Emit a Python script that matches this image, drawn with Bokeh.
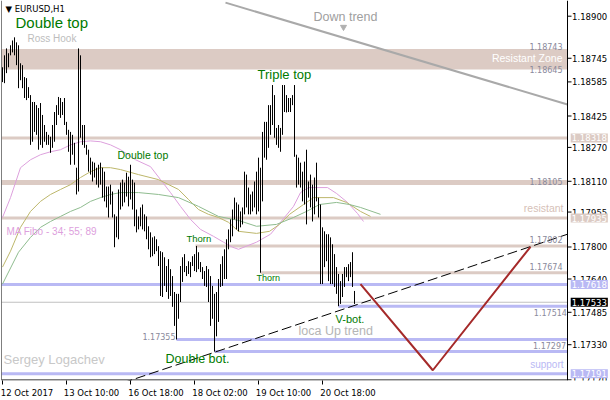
from bokeh.plotting import figure
from bokeh.models import Range1d, FixedTicker, Label
from bokeh.core.properties import value
from bokeh.embed import file_html
from bokeh.resources import INLINE

# ---------------- data (EURUSD H1, bar index / price) ----------------
highs = [1.18656, 1.18713, 1.18746, 1.18723, 1.18761, 1.18784, 1.18799, 1.18775, 1.18761, 1.18675,
         1.18666, 1.18609, 1.18604, 1.18561, 1.18523, 1.18490, 1.18490, 1.18475, 1.18461, 1.18485,
         1.18428, 1.18380, 1.18347, 1.18333, 1.18324, 1.18380, 1.18442, 1.18475, 1.18514, 1.18509,
         1.18490, 1.18509, 1.18395, 1.18357, 1.18347, 1.18333, 1.18295, 1.18176, 1.18746, 1.18713,
         1.18380, 1.18380, 1.18285, 1.18262, 1.18224, 1.18205, 1.18200, 1.18176, 1.18190, 1.18200,
         1.18176, 1.18157, 1.18086, 1.18086, 1.18095, 1.18062, 1.17953, 1.17943, 1.18072, 1.18105,
         1.18119, 1.18105, 1.18152, 1.18133, 1.18190, 1.18119, 1.18105, 1.17976, 1.17943, 1.17986,
         1.18000, 1.17953, 1.17943, 1.17896, 1.17867, 1.17843, 1.17848, 1.17834, 1.17801, 1.17777,
         1.17772, 1.17748, 1.17706, 1.17739, 1.17691, 1.17658, 1.17582, 1.17573, 1.17573, 1.17706,
         1.17748, 1.17763, 1.17706, 1.17729, 1.17725, 1.17753, 1.17763, 1.17802, 1.17772, 1.17725,
         1.17701, 1.17682, 1.17706, 1.17691, 1.17658, 1.17611, 1.17573, 1.17582, 1.17644, 1.17715,
         1.17753, 1.17786, 1.17834, 1.17881, 1.17929, 1.17976, 1.18033, 1.18010, 1.18000, 1.17967,
         1.17986, 1.18157, 1.18143, 1.18081, 1.18048, 1.18062, 1.18110, 1.18157, 1.18224, 1.18176,
         1.18347, 1.18395, 1.18395, 1.18475, 1.18475, 1.18571, 1.18523, 1.18366, 1.18380, 1.18366,
         1.18571, 1.18571, 1.18523, 1.18509, 1.18509, 1.18523, 1.18571, 1.18238, 1.18224, 1.18200,
         1.18157, 1.18205, 1.18262, 1.18110, 1.18143, 1.18095, 1.18129, 1.18200, 1.18033, 1.18000,
         1.17891, 1.17872, 1.17858, 1.17858, 1.17843, 1.17810, 1.17763, 1.17701, 1.17668, 1.17634,
         1.17668, 1.17701, 1.17701, 1.17715, 1.17725, 1.17772, 1.17587]
lows = [1.18585, 1.18580, 1.18628, 1.18656, 1.18713, 1.18727, 1.18713, 1.18666, 1.18556, 1.18594,
        1.18556, 1.18509, 1.18499, 1.18509, 1.18285, 1.18300, 1.18347, 1.18333, 1.18262, 1.18285,
        1.18271, 1.18300, 1.18285, 1.18285, 1.18247, 1.18271, 1.18300, 1.18380, 1.18428, 1.18414,
        1.18428, 1.18380, 1.18333, 1.18252, 1.18190, 1.18238, 1.18190, 1.18048, 1.18062, 1.18319,
        1.18285, 1.18271, 1.18238, 1.18157, 1.18143, 1.18110, 1.18129, 1.18095, 1.18081, 1.18095,
        1.18033, 1.18015, 1.17986, 1.17938, 1.18000, 1.17938, 1.17796, 1.17843, 1.17834, 1.17976,
        1.17991, 1.18010, 1.18038, 1.17991, 1.18024, 1.17976, 1.17896, 1.17867, 1.17881, 1.17896,
        1.17881, 1.17872, 1.17834, 1.17786, 1.17748, 1.17753, 1.17763, 1.17777, 1.17706, 1.17563,
        1.17558, 1.17611, 1.17582, 1.17549, 1.17563, 1.17511, 1.17420, 1.17355, 1.17454, 1.17534,
        1.17630, 1.17677, 1.17658, 1.17668, 1.17653, 1.17706, 1.17682, 1.17677, 1.17691, 1.17677,
        1.17644, 1.17611, 1.17606, 1.17534, 1.17420, 1.17454, 1.17297, 1.17370, 1.17439, 1.17606,
        1.17611, 1.17644, 1.17644, 1.17786, 1.17820, 1.17848, 1.17929, 1.17881, 1.17872, 1.17891,
        1.17905, 1.17953, 1.17986, 1.17953, 1.17953, 1.17967, 1.17986, 1.17953, 1.17967, 1.17674,
        1.18015, 1.18224, 1.18214, 1.18271, 1.18333, 1.18380, 1.18319, 1.18285, 1.18271, 1.18252,
        1.18333, 1.18442, 1.18440, 1.18442, 1.18442, 1.18475, 1.18228, 1.18081, 1.18095, 1.18081,
        1.18015, 1.18000, 1.17905, 1.18033, 1.17986, 1.17919, 1.17953, 1.18015, 1.17938, 1.17620,
        1.17620, 1.17701, 1.17729, 1.17634, 1.17620, 1.17620, 1.17606, 1.17573, 1.17514, 1.17525,
        1.17558, 1.17606, 1.17653, 1.17634, 1.17653, 1.17606, 1.17525]
bar_idx = list(range(len(highs)))

# moving averages (bar index, price)
ma34_x = [0, 4, 9, 14, 19, 24, 29, 34, 39, 44, 49, 54, 59, 66.5, 74, 79, 84, 89, 94, 99, 105.5,
          110.5, 115, 118, 127, 134, 139, 145.5, 149, 153, 162.5, 167, 172.5, 177.5, 180.5]
ma34_y = [1.17938, 1.18033, 1.18176, 1.18214, 1.18238, 1.18252, 1.18262, 1.18285, 1.18300, 1.18304,
          1.18300, 1.18285, 1.18262, 1.18214, 1.18181, 1.18119, 1.18057, 1.17991, 1.17929, 1.17881,
          1.17848, 1.17820, 1.17796, 1.17786, 1.17820, 1.17858, 1.17915, 1.17991, 1.18057, 1.18081,
          1.18081, 1.18053, 1.18010, 1.17957, 1.17919]
ma55_x = [0, 4, 9, 14, 19, 24, 29, 34, 39, 44, 49, 54, 59, 68, 78, 88, 93, 98, 103, 108, 113, 118,
          127, 133.5, 138.5, 143.5, 150.5, 155.5, 165.5, 172, 179, 184]
ma55_y = [1.17701, 1.17777, 1.17891, 1.17967, 1.18015, 1.18048, 1.18072, 1.18095, 1.18129, 1.18157,
          1.18176, 1.18176, 1.18167, 1.18143, 1.18119, 1.18072, 1.18024, 1.17976, 1.17953, 1.17938,
          1.17915, 1.17872, 1.17862, 1.17872, 1.17905, 1.17953, 1.18000, 1.18033, 1.18033, 1.18010,
          1.17967, 1.17943]
ma89_x = [0, 8, 14, 19, 24, 29, 34, 39, 44, 49, 54, 59, 68, 78, 88, 98, 108, 118, 127, 137, 145.5,
          152, 158.5, 167, 173.5, 179, 189]
ma89_y = [1.17620, 1.17772, 1.17843, 1.17891, 1.17919, 1.17943, 1.17967, 1.17986, 1.18015, 1.18033,
          1.18048, 1.18057, 1.18057, 1.18048, 1.18033, 1.17991, 1.17943, 1.17924, 1.17896, 1.17905,
          1.17938, 1.17967, 1.18000, 1.18010, 1.18000, 1.17986, 1.17953]

# analysis objects
zone_top, zone_bottom = 1.18743, 1.18645
rosy_levels = [1.18318, 1.18105, 1.17935, 1.17802, 1.17674]
rosy_start = [-0.5, -0.5, -0.5, 96.5, 129]
rosy_width = [3, 5, 3, 3, 3]
blue_levels = [1.17618, 1.17514, 1.17355, 1.17297, 1.17191]
blue_start = [-0.5, 168, 87, 106, -0.5]
last_price = 1.17533
down_trend_x = [111.5, 282.5]
down_trend_y = [1.18965, 1.18478]
up_trend_x = [60.0, 282.5]
up_trend_y = [1.17147, 1.17858]
forecast_x = [179, 215.15, 264]
forecast_y = [1.17620, 1.17208, 1.17798]

x_tick_pos = [0, 32, 64, 96, 128, 160]
x_label_pos = [12.25, 44.5, 76.75, 108.75, 140.5, 172.75]
x_labels = ["12 Oct 2017", "13 Oct 10:00", "16 Oct 18:00", "18 Oct 02:00", "19 Oct 10:00", "20 Oct 18:00"]
y_tick_pos = [1.18900, 1.18699, 1.18586, 1.18423, 1.18273, 1.18111, 1.17964, 1.17797, 1.17644,
              1.17485, 1.17330, 1.17162]
y_labels = ["1.18900", "1.18745", "1.18585", "1.18425", "1.18270", "1.18110", "1.17955", "1.17800",
            "1.17640", "1.17485", "1.17330", "1.17170"]
box_prices = [1.18318, 1.17935, 1.17618, 1.17533, 1.17191]
box_texts = ["1.18318", "1.17935", "1.17618", "1.17533", "1.17191"]

ROSY = "#dccbc4"
BLUE = "#b9b9f4"
GREEN = "#007a00"
FONT = "Liberation Sans"
AXFONT = "DejaVu Sans"
SCALE_X = 282.5        # price-scale edge (bar-index units)
Y0, Y1 = 1.17159, 1.18975

p = figure(width=610, height=400, output_backend="svg", toolbar_location=None,
           x_range=Range1d(-0.5, 304.0), y_range=Range1d(Y0, Y1),
           x_axis_location="below", y_axis_location=None,
           min_border_left=1, min_border_right=0, min_border_top=0, min_border_bottom=18,
           outline_line_color=None, background_fill_color="white", border_fill_color="white")
p.xgrid.visible = False
p.ygrid.visible = False

# time axis
xa = p.xaxis[0]
xa.ticker = FixedTicker(ticks=x_label_pos, minor_ticks=x_tick_pos)
xa.major_label_overrides = {k: v for k, v in zip(x_label_pos, x_labels)}
xa.major_tick_line_color = None
xa.major_tick_in = 0
xa.major_tick_out = 0
xa.minor_tick_in = 0
xa.minor_tick_out = 4
xa.minor_tick_line_color = "black"
xa.axis_line_color = None
xa.major_label_standoff = 3
xa.major_label_text_font = AXFONT
xa.major_label_text_font_size = "8.5px"
xa.major_label_text_color = "black"

# zone and levels
p.quad(left=[-0.5], right=[SCALE_X], bottom=[zone_bottom], top=[zone_top], fill_color=ROSY,
       line_color=None)
p.segment(x0=rosy_start, x1=[SCALE_X] * len(rosy_levels), y0=rosy_levels, y1=rosy_levels,
          line_color=ROSY, line_width=rosy_width)
p.segment(x0=blue_start, x1=[SCALE_X] * len(blue_levels), y0=blue_levels, y1=blue_levels,
          line_color=BLUE, line_width=3)
p.segment(x0=[-0.5], x1=[SCALE_X], y0=[last_price], y1=[last_price], line_color="#c0c0c0",
          line_width=1)

# moving averages
p.line(ma34_x, ma34_y, line_color="#dda0dd", line_width=1)
p.line(ma55_x, ma55_y, line_color="#bdb76b", line_width=1)
p.line(ma89_x, ma89_y, line_color="#8fbc8f", line_width=1)

# bars
p.segment(x0=bar_idx, x1=bar_idx, y0=lows, y1=highs, line_color="black", line_width=1)

# trend lines
p.line(down_trend_x, down_trend_y, line_color="#a9a9a9", line_width=2)
p.line(up_trend_x, up_trend_y, line_color="black", line_width=1, line_dash="10 4")
p.line(forecast_x, forecast_y, line_color="#a52a2a", line_width=2)
p.scatter(x=[170.5], y=[1.18848], marker="inverted_triangle", size=6, color="#b0b0b0")

# chart frame: left edge, bottom edge, price-scale edge
p.segment(x0=[-0.5, -0.5, SCALE_X], x1=[-0.5, SCALE_X, SCALE_X],
          y0=[Y0, Y0 + 0.000024, Y0], y1=[Y1, Y0 + 0.000024, Y1], line_color="black", line_width=1)

# price scale (ticks + labels)
p.segment(x0=[SCALE_X] * len(y_tick_pos), x1=[SCALE_X + 2] * len(y_tick_pos),
          y0=y_tick_pos, y1=y_tick_pos, line_color="black", line_width=1)
p.text(x=[SCALE_X + 2.3] * len(y_tick_pos), y=y_tick_pos, text=y_labels,
       text_font=value(AXFONT), text_font_size="8.5px", text_color="black",
       text_align="left", text_baseline="middle")


def lab(x, y, text, color, size, align="left", font=FONT):
    p.add_layout(Label(x=x, y=y, text=text, text_color=color, text_font=font,
                       text_font_size=size, text_align=align, text_baseline="middle"))


lab(1.5, 1.18932, "\u25bc EURUSD,H1", "black", "8.5px", font=AXFONT)
lab(6.5, 1.18870, "Double top", GREEN, "15px")
lab(12.5, 1.18794, "Ross Hook", "#bdbdbd", "10px")
lab(155.5, 1.18894, "Down trend", "#a0a0a0", "12.5px")
lab(280, 1.18756, "1.18743", "#8a8a9c", "8px", "right", AXFONT)
lab(280, 1.18699, "Resistant Zone", "white", "10.5px", "right")
lab(280, 1.18647, "1.18645", "#8a8a9c", "8px", "right", AXFONT)
lab(127.5, 1.18623, "Triple top", GREEN, "13px")
lab(57.5, 1.18238, "Double top", GREEN, "10.5px")
lab(280, 1.18110, "1.18105", "#8a8a9c", "8px", "right", AXFONT)
lab(280.5, 1.17981, "resistant", "#d6bfb7", "10.5px", "right")
lab(2, 1.17872, "MA Fibo - 34; 55; 89", "#dda0dd", "10px")
lab(92, 1.17839, "Thorn", GREEN, "9.5px")
lab(280, 1.17834, "1.17802", "#8a8a9c", "8px", "right", AXFONT)
lab(280, 1.17706, "1.17674", "#8a8a9c", "8px", "right", AXFONT)
lab(127, 1.17649, "Thorn", GREEN, "9px")
lab(282.2, 1.17482, "1.17514", "#8a8a9c", "8px", "right", AXFONT)
lab(166.5, 1.17454, "V-bot.", GREEN, "11px")
lab(148, 1.17397, "loca Up trend", "#b5b5b5", "12.5px")
lab(86.5, 1.17368, "1.17355", "#8a8a9c", "8px", "right", AXFONT)
lab(281.8, 1.17325, "1.17297", "#8a8a9c", "8px", "right", AXFONT)
lab(0.5, 1.17259, "Sergey Logachev", "#c8c8c8", "13px")
lab(81.5, 1.17264, "Double bot.", GREEN, "12.5px")
lab(280.5, 1.17235, "support", BLUE, "10px", "right")

# price boxes on the scale
box_colors = [ROSY, ROSY, BLUE, "black", BLUE]
for bp, bt, bc in zip(box_prices, box_texts, box_colors):
    p.add_layout(Label(x=SCALE_X + 1.6, y=bp, text=bt, text_color="white", text_font=AXFONT,
                       text_font_size="8.5px", text_align="left", text_baseline="middle",
                       background_fill_color=bc, padding=1))

open("out.html", "w").write(file_html(p, INLINE))
